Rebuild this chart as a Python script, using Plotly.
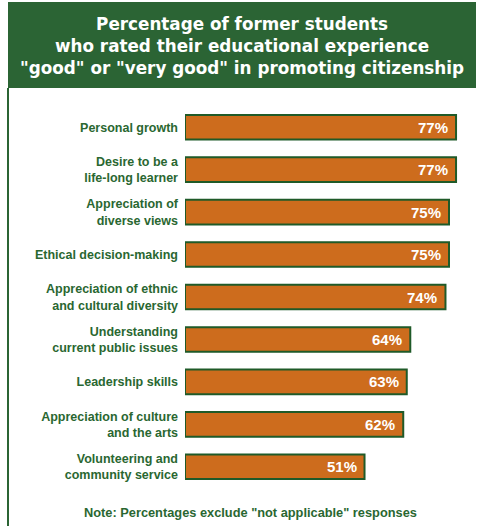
import plotly.graph_objects as go

categories = [
    "Personal growth",
    "Desire to be a<br>life-long learner",
    "Appreciation of<br>diverse views",
    "Ethical decision-making",
    "Appreciation of ethnic<br>and cultural diversity",
    "Understanding<br>current public issues",
    "Leadership skills",
    "Appreciation of culture<br>and the arts",
    "Volunteering and<br>community service",
]
values = [77, 77, 75, 75, 74, 64, 63, 62, 51]
value_labels = ["77%", "77%", "75%", "75%", "74%", "64%", "63%", "62%", "51%"]

title_lines = [
    "Percentage of former students",
    "who rated their educational experience",
    "\"good\" or \"very good\" in promoting citizenship",
]
note_text = "Note: Percentages exclude \"not applicable\" responses"

W, H = 477, 527
ML, MR, MT, MB = 185, 0, 106, 39
PW, PH = W - ML - MR, H - MT - MB

HEADER_GREEN = "#2b6434"
TEXT_GREEN = "#2a6731"
BAR_ORANGE = "#cd6c1d"
BAR_EDGE = "#1f5a28"


def px_x(x):
    return (x - ML) / PW


def px_y(y):
    return (H - MB - y) / PH


fig = go.Figure()
fig.add_trace(go.Bar(
    x=values,
    y=categories,
    orientation="h",
    marker=dict(color=BAR_ORANGE, line=dict(color=BAR_EDGE, width=2)),
    hoverinfo="skip",
))

annotations = []
for cat, v, lab in zip(categories, values, value_labels):
    annotations.append(dict(
        x=v, y=cat, xref="x", yref="y", text=lab, showarrow=False,
        xanchor="right", yanchor="middle", xshift=-6,
        font=dict(family="Liberation Sans, Arial", size=15, color="white", weight="bold"),
    ))

annotations.append(dict(
    x=px_x(242), y=px_y(46), xref="paper", yref="paper",
    text="<br>".join(title_lines), showarrow=False,
    xanchor="center", yanchor="middle", align="center",
    font=dict(family="DejaVu Sans", size=16.8, color="white", weight="bold"),
))
annotations.append(dict(
    x=px_x(250), y=px_y(512), xref="paper", yref="paper",
    text=note_text, showarrow=False,
    xanchor="center", yanchor="middle",
    font=dict(family="Liberation Sans, Arial", size=12.8, color=TEXT_GREEN, weight="bold"),
))

shapes = [
    dict(type="rect", xref="paper", yref="paper",
         x0=px_x(8), x1=px_x(476), y0=px_y(88), y1=px_y(2),
         fillcolor=HEADER_GREEN, line=dict(width=0), layer="below"),
    dict(type="line", xref="paper", yref="paper",
         x0=px_x(8), x1=px_x(8), y0=px_y(88), y1=px_y(526),
         line=dict(color=HEADER_GREEN, width=2)),
]

fig.update_layout(
    width=W, height=H,
    margin=dict(l=ML, r=MR, t=MT, b=MB),
    paper_bgcolor="white", plot_bgcolor="white",
    showlegend=False,
    bargap=0.42,
    annotations=annotations,
    shapes=shapes,
    xaxis=dict(range=[0, PW / 3.52], visible=False, fixedrange=True),
    yaxis=dict(
        autorange="reversed", showgrid=False, zeroline=False, showline=False,
        ticks="", ticklabelstandoff=6,
        tickfont=dict(family="Liberation Sans, Arial", size=12.5, color=TEXT_GREEN, weight="bold"),
    ),
)

fig.write_html("out.html")
